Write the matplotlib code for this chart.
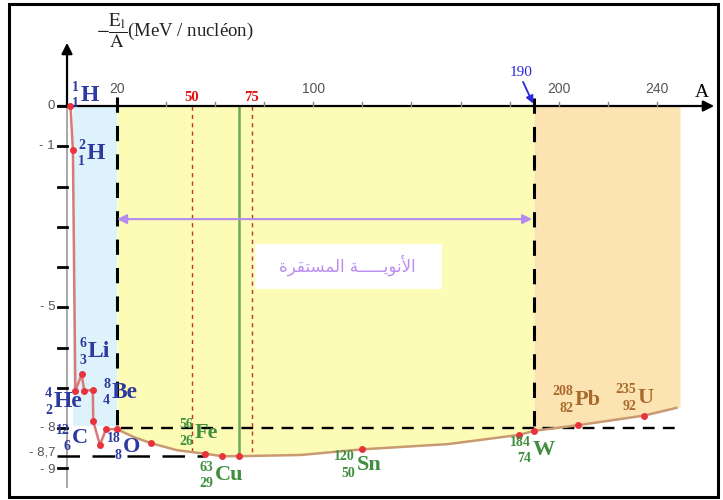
import numpy as np
import matplotlib.pyplot as plt
from matplotlib.patches import Rectangle

plt.rcParams['mathtext.fontset'] = 'stix'
plt.rcParams['font.family'] = ['Liberation Serif', 'DejaVu Sans']

# -E_l/A (MeV per nucleon) against mass number A
light_A = [1, 2, 3, 5.6, 6.6, 10.1, 10.3, 13, 15.5, 20]
light_E = [0, -1.1, -7.07, -6.67, -7.07, -7.06, -7.83, -8.42, -8.03, -8.03]
heavy_A = [20, 26.6, 34, 44.3, 56, 62.7, 69.8, 95, 120, 155, 184, 190, 208, 235, 248]
heavy_E = [-8.03, -8.22, -8.38, -8.55, -8.64, -8.70, -8.70, -8.67, -8.53, -8.40,
           -8.17, -8.07, -7.93, -7.69, -7.50]
dot_A = [1, 2, 3, 5.6, 6.6, 10.1, 10.3, 13, 15.5, 20, 34, 56, 62.7, 69.8, 120, 184, 190, 208, 235]
dot_E = [0, -1.1, -7.07, -6.67, -7.07, -7.06, -7.83, -8.42, -8.03, -8.03, -8.38, -8.64,
         -8.70, -8.70, -8.53, -8.17, -8.07, -7.93, -7.69]

# nuclide labels: mass number, atomic number, symbol, colour, size, symbol anchor (A, E)
nuclides = [
    ('1', '1', 'H', '#2d3a9e', 17, 5.0, 0.27),
    ('2', '1', 'H', '#2d3a9e', 17, 7.6, -1.17),
    ('6', '3', 'Li', '#2d3a9e', 17, 8.0, -6.11),
    ('4', '2', 'He', '#2d3a9e', 17, -5.9, -7.35),
    ('8', '4', 'Be', '#2d3a9e', 17, 17.7, -7.11),
    ('12', '6', 'C', '#2d3a9e', 16, 1.5, -8.25),
    ('18', '8', 'O', '#2d3a9e', 16, 22.2, -8.47),
    ('56', '26', 'Fe', '#3f8f3f', 16, 51.6, -8.12),
    ('63', '29', 'Cu', '#3f8f3f', 16, 59.7, -9.17),
    ('120', '50', 'Sn', '#3f8f3f', 16, 117.6, -8.92),
    ('184', '74', 'W', '#3f8f3f', 16, 189.4, -8.55),
    ('208', '82', 'Pb', '#a8692c', 16, 206.5, -7.30),
    ('235', '92', 'U', '#a8692c', 16, 232.2, -7.25),
]

y_ticks = [0, -1, -2, -3, -4, -5, -6, -7, -8, -9]
y_labels = {0: '0', -1: '- 1', -5: '- 5', -8: '- 8', -8.62: '- 8,7', -9.05: '- 9'}
x_minor = [40, 60, 80, 100, 120, 140, 160, 180, 200, 220, 240]
x_labels = [20, 100, 200, 240]

fig = plt.figure(figsize=(7.23, 5.0), dpi=100)
ax = fig.add_axes([0, 0, 1, 1])
ax.set_xlim(-27.72, 267.0)
ax.set_ylim(-9.789, 2.634)
ax.axis('off')

# shaded zones
ax.fill_between([2, 20], [0, 0], [-7.95, -7.95], color='#ddf2fb', lw=0, zorder=0)
hA = np.array(heavy_A)
hE = np.array(heavy_E)
m = hA <= 190
ax.fill_between(hA[m], 0, hE[m], color='#fdfcb6', lw=0, zorder=0)
ax.fill_between(np.r_[190, hA[~m], 249.5], 0, np.r_[-8.07, hE[~m], -7.48],
                color='#fce3b2', lw=0, zorder=0)

# stable nuclei box
ax.add_patch(Rectangle((76.2, -4.55), 76.2, 1.12, color='white', lw=0, zorder=1))
# pre-shaped Arabic (presentation forms, visual order): "الأنويـــــة المستقرة"
word1 = '\uFE8D\uFEF7\uFEE7\uFEEE\uFEF3' + '\u0640' * 5 + '\uFE94'
word2 = '\uFE8D\uFEDF\uFEE4\uFEB4\uFE98\uFED8\uFEAE\uFE93'
arabic = word2[::-1] + ' ' + word1[::-1]
ax.text(113.7, -3.95, arabic, family='DejaVu Sans', fontsize=12, color='#b98ef0',
        ha='center', va='center', zorder=2)

# reference lines
ax.plot([20, 20], [0.22, -8.0], color='k', lw=2.2, dashes=(5, 4.3), zorder=3)
ax.plot([190, 190], [0.2, -8.07], color='k', lw=2.2, dashes=(5, 4.3), zorder=3)
ax.plot([21.6, 249], [-8.0, -8.0], color='k', lw=1.7, dashes=(5, 3.5), zorder=3)
ax.plot([-4.5, 56], [-8.7, -8.7], color='k', lw=1.8, dashes=(9, 5), zorder=3)
ax.plot([50.4, 50.4], [0, -8.6], color='#c83030', lw=1.0, dashes=(3, 3), zorder=3)
ax.plot([74.9, 74.9], [0, -8.68], color='#c83030', lw=1.0, dashes=(3, 3), zorder=3)
ax.plot([69.8, 69.8], [0, -8.7], color='#6aaa5a', lw=1.8, zorder=3)

# double arrow across the stable range
ax.annotate('', xy=(189.2, -2.81), xytext=(20, -2.81),
            arrowprops=dict(arrowstyle='<|-|>', color='#b48cf0', lw=1.5,
                            mutation_scale=14, shrinkA=0, shrinkB=0), zorder=3)

# axes
ax.plot([-0.4, -0.4], [0, -9.47], color='#a8a8a8', lw=1.4, zorder=2)
ax.annotate('', xy=(263.4, 0), xytext=(-4.1, 0),
            arrowprops=dict(arrowstyle='-|>', color='k', lw=1.6,
                            mutation_scale=16, shrinkA=0, shrinkB=0), zorder=4)
ax.annotate('', xy=(-0.4, 1.57), xytext=(-0.4, 0),
            arrowprops=dict(arrowstyle='-|>', color='k', lw=1.6,
                            mutation_scale=16, shrinkA=0, shrinkB=0), zorder=4)
for v in y_ticks:
    ax.plot([-4.1, -0.6], [v, v], color='k', lw=2.0, zorder=4)
for v, s in y_labels.items():
    ax.text(-5.3, v, s, family='Liberation Sans', fontsize=9.5, color='#555555',
            ha='right', va='center')
for a in x_minor:
    ax.plot([a, a], [0, 0.09], color='#888888', lw=1.0, zorder=4)
for a in x_labels:
    ax.text(a, 0.42, str(a), family='Liberation Sans', fontsize=10, color='#555555',
            ha='center', va='center')
ax.text(50.4, 0.2, '50', fontsize=10.5, weight='bold', color='#e01010', ha='center', va='center')
ax.text(74.9, 0.2, '75', fontsize=10.5, weight='bold', color='#e01010', ha='center', va='center')
ax.text(184.7, 0.83, '190', fontsize=11, color='#2a2ad8', ha='center', va='center')
ax.annotate('', xy=(189.6, 0.06), xytext=(185.5, 0.6),
            arrowprops=dict(arrowstyle='-|>', color='#2a2ad8', lw=1.3,
                            mutation_scale=11, shrinkA=0, shrinkB=0), zorder=5)
ax.text(258.5, 0.33, 'A', fontsize=14, color='k', ha='center', va='center')
ax.text(43.6, 1.88, r'$-\dfrac{\mathrm{E}_{\mathrm{l}}}{\mathrm{A}}$(MeV / nucléon)',
        fontsize=13.5, color='#222222', ha='center', va='center')

# the curve and its nuclides
ax.plot(light_A, light_E, color='#d97a78', lw=1.8, zorder=5)
ax.plot(heavy_A, heavy_E, color='#c99a72', lw=1.8, zorder=5)
ax.plot(dot_A, dot_E, 'o', color='#e8323c', ms=5, mec='none', zorder=6)

for mass, z, sym, col, size, a, e in nuclides:
    ax.text(a, e, sym, fontsize=size, weight='bold', color=col, ha='left', va='center', zorder=7)
    ax.annotate(mass, (a, e), xytext=(-1, 5.8), textcoords='offset points', fontsize=10,
                weight='bold', color=col, ha='right', va='center', zorder=7)
    ax.annotate(z, (a, e), xytext=(-1, -6.2), textcoords='offset points', fontsize=10,
                weight='bold', color=col, ha='right', va='center', zorder=7)

# outer frame
fig.add_artist(Rectangle((0.0131, 0.006), 0.9793, 0.986, transform=fig.transFigure,
                         fill=False, ec='k', lw=2.2))

fig.savefig('out.png', dpi=100)
